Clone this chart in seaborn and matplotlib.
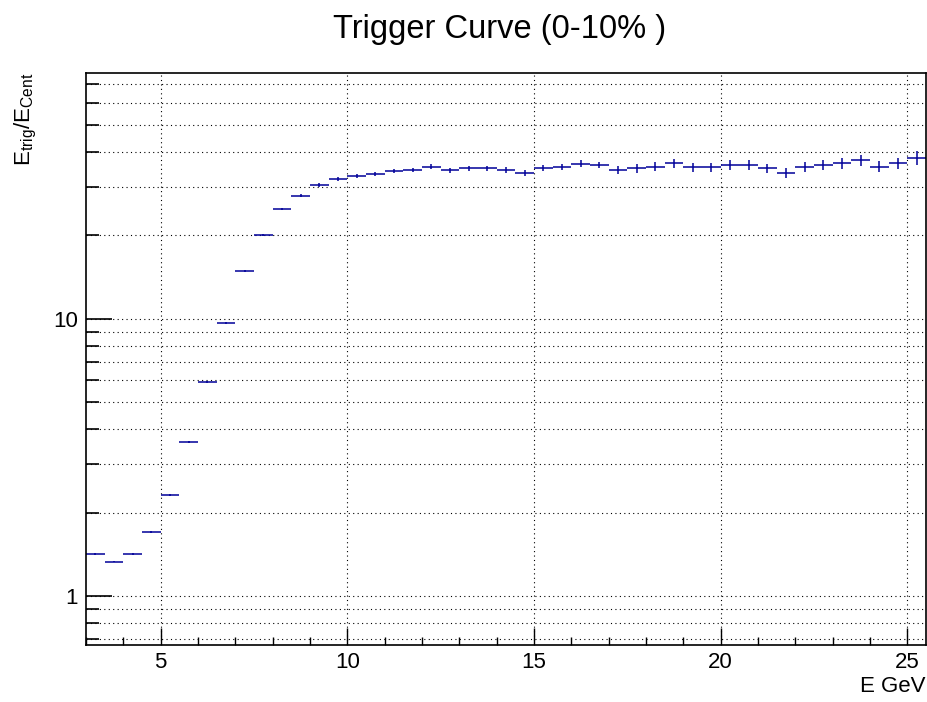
import matplotlib
matplotlib.use("Agg")
import matplotlib.pyplot as plt
import numpy as np
import pandas as pd
import seaborn as sns
from matplotlib.ticker import FixedLocator, NullFormatter, MultipleLocator

# bin edges 3 .. 25.5 GeV, width 0.5
bin_lo = [3.0 + 0.5 * i for i in range(45)]
ratio = [
    1.42, 1.335, 1.42, 1.71, 2.32, 3.59, 5.94, 9.7, 14.9, 20.1,
    24.9, 27.8, 30.4, 32.0, 32.8, 33.3, 34.1, 34.5, 35.4, 34.4,
    34.9, 34.9, 34.4, 33.5, 34.9, 35.3, 36.3, 35.9, 34.4, 34.9,
    35.4, 36.4, 35.2, 35.2, 35.9, 35.9, 34.9, 33.7, 35.2, 35.9,
    36.4, 37.4, 35.4, 36.4, 38.1,
]
ratio_err = [
    0.01, 0.01, 0.01, 0.015, 0.02, 0.03, 0.05, 0.08, 0.12, 0.18,
    0.25, 0.3, 0.4, 0.45, 0.5, 0.55, 0.6, 0.6, 0.7, 0.7,
    0.75, 0.75, 0.8, 0.8, 0.85, 0.9, 0.95, 1.0, 1.2, 1.25,
    1.25, 1.3, 1.3, 1.35, 1.35, 1.4, 1.4, 1.4, 1.45, 1.5,
    1.6, 1.7, 1.6, 1.7, 2.1,
]

df = pd.DataFrame({"lo": bin_lo, "ratio": ratio, "err": ratio_err})
df["center"] = df["lo"] + 0.25

sns.set_style("ticks")
plt.rcParams["font.family"] = ["Liberation Sans", "DejaVu Sans"]
plt.rcParams["text.color"] = "black"
plt.rcParams["xtick.color"] = "black"
plt.rcParams["ytick.color"] = "black"
plt.rcParams["axes.labelcolor"] = "black"

fig = plt.figure(figsize=(9.28, 7.02), dpi=100)
ax = fig.add_axes([86 / 928, 57 / 702, 840 / 928, 572 / 702])

ax.errorbar(
    df["center"], df["ratio"], xerr=0.25, yerr=df["err"],
    fmt="none", ecolor="#000099", elinewidth=1.1, capsize=0,
)

ax.set_yscale("log")
ax.set_xlim(3, 25.5)
ax.set_ylim(0.668, 77)

ax.xaxis.set_major_locator(MultipleLocator(5))
ax.xaxis.set_minor_locator(MultipleLocator(1))
ax.yaxis.set_major_locator(FixedLocator([1, 10]))
minor_y = [0.7, 0.8, 0.9] + list(range(2, 10)) + list(range(20, 80, 10))
ax.yaxis.set_minor_locator(FixedLocator(minor_y))
ax.yaxis.set_minor_formatter(NullFormatter())
ax.set_yticklabels(["1", "10"])

ax.grid(which="major", axis="x", ls=(0, (1, 3)), color="black", lw=0.8)
ax.grid(which="both", axis="y", ls=(0, (1, 3)), color="black", lw=0.8)

ax.tick_params(axis="x", which="major", direction="in", length=12, width=1, labelsize=16, pad=5)
ax.tick_params(axis="x", which="minor", direction="in", length=6, width=1)
ax.tick_params(axis="y", which="major", direction="in", length=19, width=1.2, labelsize=16, pad=6)
ax.tick_params(axis="y", which="minor", direction="in", length=9, width=1.2)
for sp in ax.spines.values():
    sp.set_color("black")
    sp.set_linewidth(1.2)
    sp.set_visible(True)

fig.text(500 / 928, 1 - 14 / 702, "Trigger Curve (0-10% )", ha="center", va="top", fontsize=23.5)
ax.set_xlabel("E GeV", fontsize=16, loc="right", labelpad=2)
ax.set_ylabel(r"E$_{\mathregular{trig}}$/E$_{\mathregular{Cent}}$", fontsize=16, loc="top", labelpad=10)

fig.savefig("out.png", dpi=100)
